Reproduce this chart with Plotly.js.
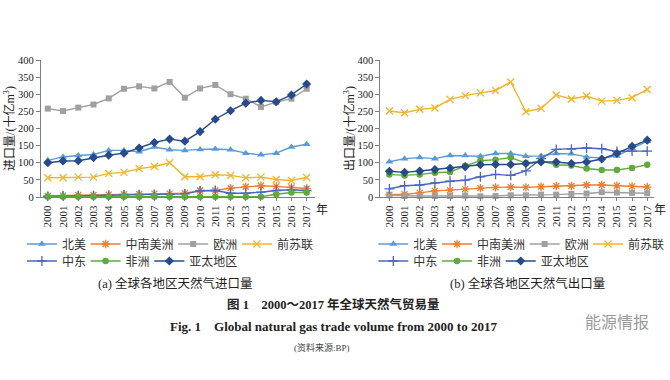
<!DOCTYPE html>
<html><head><meta charset="utf-8">
<script src="https://cdn.plot.ly/plotly-3.0.1.min.js"></script>
<style>html,body{margin:0;padding:0;background:#fff}#chart{width:670px;height:380px}</style>
</head><body><div id="chart"></div>
<script>
const years = [2000,2001,2002,2003,2004,2005,2006,2007,2008,2009,2010,2011,2012,2013,2014,2015,2016,2017];
const seriesNames = ['北美','中南美洲','欧洲','前苏联','中东','非洲','亚太地区'];

// (a) imports, 十亿m3
const importNorthAmerica = [107,117,121,124,136,136,132,146,138,136,139,140,138,128,123,128,146,154];
const importCSAmerica    = [3,4,6,6,7,8,9,10,10,11,19,19,26,30,33,31,28,25];
const importEurope       = [258,251,261,270,288,316,323,317,336,290,317,327,300,287,263,277,287,316];
const importFSU          = [56,56,58,58,69,72,83,89,100,59,59,65,63,56,58,51,48,57];
const importMiddleEast   = [2,3,4,4,5,6,7,7,8,9,18,19,11,11,14,19,21,19];
const importAfrica       = [1,1,1,1,1,1,1,1,1,1,1,1,1,1,1,8,13,13];
const importAsiaPacific  = [100,105,106,115,122,128,143,159,169,163,191,227,252,274,282,278,298,330];

// (b) exports, 十亿m3
const exportNorthAmerica = [103,112,115,112,121,121,119,127,127,119,120,127,126,117,113,120,142,163];
const exportCSAmerica    = [7,8,12,18,20,23,26,28,29,28,30,32,32,35,35,33,31,29];
const exportEurope       = [5,3,3,3,3,4,2,3,5,5,7,7,9,10,14,13,12,11];
const exportFSU          = [251,246,256,260,285,296,304,311,336,249,259,298,286,295,280,282,290,314];
const exportMiddleEast   = [24,33,35,41,46,49,59,66,63,76,112,139,140,143,141,133,134,134];
const exportAfrica       = [66,63,66,71,73,91,106,109,115,99,105,94,92,83,79,79,85,94];
const exportAsiaPacific  = [75,72,76,80,84,88,94,95,95,98,102,102,98,102,111,127,148,166];

const importSeries = [importNorthAmerica, importCSAmerica, importEurope, importFSU, importMiddleEast, importAfrica, importAsiaPacific];
const exportSeries = [exportNorthAmerica, exportCSAmerica, exportEurope, exportFSU, exportMiddleEast, exportAfrica, exportAsiaPacific];

const colors  = ['#5b9bd5','#ed7d31','#a0a0a0','#f4b328','#4a66c4','#5fab3c','#264a8c'];
const symbols = ['triangle-up','asterisk-open','square','x-thin-open','cross-thin-open','circle','diamond'];
const sizes   = [7,7,6,7,7,6.5,7];

const serif = '"Liberation Serif","Times New Roman","Noto Sans CJK SC",serif';

// legend entry placement (left edge of each entry, px) and row (px from top)
const legendLeftX  = [22, 86, 174, 238, 22, 86, 150];
const legendRightX = [375, 439, 527, 591, 375, 439, 503];
const legendRowY   = [244, 244, 244, 244, 261, 261, 261];

const traces = [];
function addSet(data, xa, ya, legOffset) {
  data.forEach((vals, i) => {
    const open = symbols[i].indexOf('open') >= 0;
    const n = legOffset + i + 1;
    traces.push({
      type: 'scatter', mode: 'lines+markers',
      x: years, y: vals, name: seriesNames[i],
      xaxis: xa, yaxis: ya,
      legend: n === 1 ? 'legend' : 'legend' + n,
      cliponaxis: false,
      line: {color: colors[i], width: 1.4},
      marker: {symbol: symbols[i], size: sizes[i], color: colors[i],
               line: {color: colors[i], width: open ? 1.3 : 0}},
      hoverinfo: 'x+y+name'
    });
  });
}
addSet(importSeries, 'x', 'y', 0);
addSet(exportSeries, 'x2', 'y2', 7);

const axisCommon = {
  showline: true, linecolor: '#7f7f7f', linewidth: 1,
  ticks: 'outside', tickcolor: '#7f7f7f', ticklen: 3,
  showgrid: false, zeroline: false, fixedrange: true
};
const xCommon = Object.assign({}, axisCommon, {
  tickmode: 'array', tickvals: years, tickangle: -90,
  tickfont: {family: serif, size: 11, color: '#1a1a1a'}
});
const yCommon = Object.assign({}, axisCommon, {
  range: [0, 400], tick0: 0, dtick: 50, ticklen: 4,
  domain: [1 - 197/380, 1 - 60/380],
  tickfont: {family: serif, size: 10.5, color: '#1a1a1a'}
});

const layout = {
  width: 670, height: 380,
  margin: {l: 0, r: 0, t: 0, b: 0},
  paper_bgcolor: '#fff', plot_bgcolor: '#fff',
  showlegend: true,
  xaxis: Object.assign({}, xCommon, {domain: [41/670, 316/670], range: [1999.54, 2017.52], anchor: 'y'}),
  yaxis: Object.assign({}, yCommon, {anchor: 'x',
    title: {text: '进口量/(十亿m<sup>3</sup>)', font: {family: serif, size: 12, color: '#222'}, standoff: 0}}),
  xaxis2: Object.assign({}, xCommon, {domain: [382/670, 657/670], range: [1999.4, 2017.45], anchor: 'y2'}),
  yaxis2: Object.assign({}, yCommon, {anchor: 'x2',
    title: {text: '出口量/(十亿m<sup>3</sup>)', font: {family: serif, size: 12, color: '#222'}, standoff: 0}}),
  annotations: []
};

for (let k = 0; k < 14; k++) {
  const i = k % 7;
  const px = k < 7 ? legendLeftX[i] : legendRightX[i];
  layout[k === 0 ? 'legend' : 'legend' + (k + 1)] = {
    orientation: 'h', xanchor: 'left', yanchor: 'middle',
    x: px / 670, y: 1 - legendRowY[i] / 380,
    font: {family: serif, size: 12, color: '#333'},
    bgcolor: 'rgba(0,0,0,0)', borderwidth: 0, itemwidth: 30
  };
}

function note(text, px, py, font) {
  layout.annotations.push({text: text, x: px / 670, y: 1 - py / 380, xref: 'paper', yref: 'paper',
    xanchor: 'center', yanchor: 'middle', showarrow: false, font: font});
}
note('年', 323, 210, {family: serif, size: 12, color: '#222'});
note('年', 663, 210, {family: serif, size: 12, color: '#222'});
note('(a) 全球各地区天然气进口量', 176, 283, {family: serif, size: 12.5, color: '#222'});
note('(b) 全球各地区天然气出口量', 530, 283, {family: serif, size: 12.5, color: '#222'});
note('<b>图 1　2000～2017 年全球天然气贸易量</b>', 335, 304, {family: serif, size: 12.5, color: '#222'});
note('<b>Fig. 1　Global natural gas trade volume from 2000 to 2017</b>', 335, 326, {family: serif, size: 13, color: '#222'});
note('(资料来源:BP)', 323, 347, {family: serif, size: 9, color: '#444'});
note('能源情报', 620, 321, {family: '"Noto Sans CJK SC",sans-serif', size: 16, color: '#9a9a9a'});

Plotly.newPlot('chart', traces, layout, {staticPlot: true, displayModeBar: false});
</script>
</body></html>
